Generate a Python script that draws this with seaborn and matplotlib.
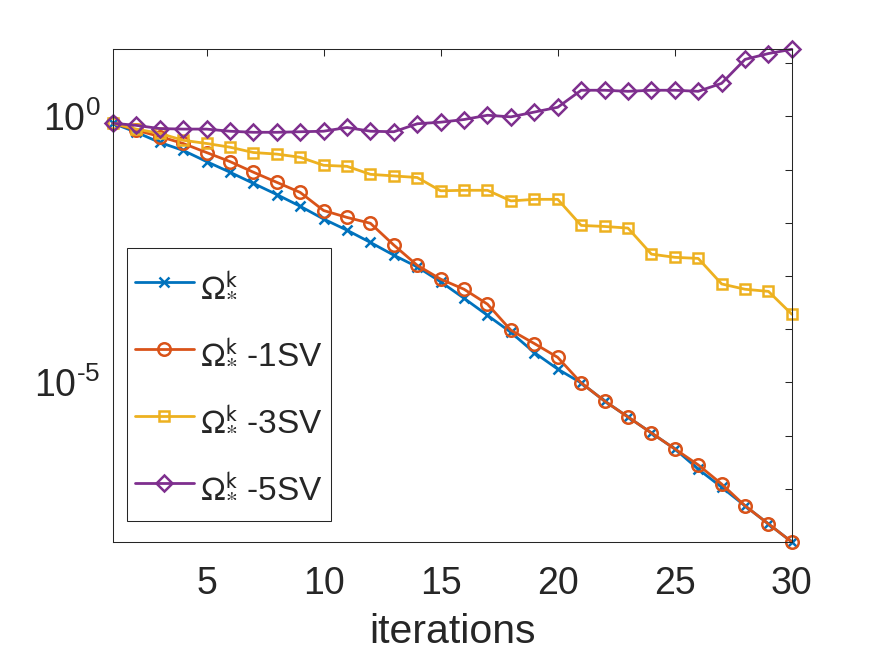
import numpy as np
import pandas as pd
import matplotlib
matplotlib.use('Agg')
import matplotlib.pyplot as plt
from matplotlib.ticker import NullLocator, FixedLocator
from matplotlib.font_manager import FontProperties
import seaborn as sns

# iteration index
iterations = list(range(1, 31))

# log10 of the residual for each variant
log_full = [-0.13, -0.30, -0.49, -0.64, -0.85, -1.05, -1.26, -1.47, -1.69, -1.93,
            -2.14, -2.37, -2.61, -2.83, -3.11, -3.42, -3.74, -4.06, -4.44, -4.75,
            -5.01, -5.35, -5.65, -5.95, -6.25, -6.63, -6.97, -7.32, -7.66, -8.00]
log_1sv = [-0.13, -0.26, -0.38, -0.51, -0.68, -0.85, -1.05, -1.24, -1.43, -1.77,
           -1.90, -2.01, -2.42, -2.80, -3.06, -3.25, -3.53, -4.02, -4.27, -4.53,
           -5.01, -5.35, -5.65, -5.95, -6.25, -6.55, -6.91, -7.32, -7.66, -8.00]
log_3sv = [-0.13, -0.24, -0.32, -0.45, -0.51, -0.58, -0.68, -0.71, -0.77, -0.92,
           -0.94, -1.09, -1.12, -1.15, -1.40, -1.39, -1.39, -1.59, -1.56, -1.56,
           -2.05, -2.07, -2.10, -2.59, -2.65, -2.67, -3.15, -3.25, -3.29, -3.72]
log_5sv = [-0.13, -0.17, -0.23, -0.24, -0.24, -0.28, -0.30, -0.30, -0.29, -0.28,
           -0.21, -0.28, -0.29, -0.14, -0.11, -0.06, 0.02, -0.01, 0.08, 0.17,
           0.49, 0.49, 0.47, 0.49, 0.49, 0.47, 0.62, 1.07, 1.18, 1.26]

labels = [r'$\Omega_{*}^{\mathrm{k}}$',
          r'$\Omega_{*}^{\mathrm{k}}$ -1SV',
          r'$\Omega_{*}^{\mathrm{k}}$ -3SV',
          r'$\Omega_{*}^{\mathrm{k}}$ -5SV']
colors = ['#0072BD', '#D95319', '#EDB120', '#7E2F8E']
markers = ['x', 'o', 's', 'D']
marker_sizes = [6.5, 9, 7.5, 8.5]

frames = []
for lab, vals in zip(labels, [log_full, log_1sv, log_3sv, log_5sv]):
    frames.append(pd.DataFrame({'iteration': iterations,
                                'residual': 10.0 ** np.array(vals),
                                'method': lab}))
df = pd.concat(frames, ignore_index=True)

sns.set_theme(style='white')
fam = ['Liberation Sans', 'DejaVu Sans']
plt.rcParams['font.family'] = fam
plt.rcParams['mathtext.fontset'] = 'custom'
plt.rcParams['mathtext.rm'] = 'Liberation Sans'
plt.rcParams['mathtext.it'] = 'Liberation Sans:italic'
plt.rcParams['mathtext.bf'] = 'Liberation Sans:bold'
text_col = '#262626'

fig = plt.figure(figsize=(8.75, 6.57), dpi=100)
ax = fig.add_axes([0.129, 0.175, 0.776, 0.750])

for lab, col, mk, ms in zip(labels, colors, markers, marker_sizes):
    sub = df[df['method'] == lab]
    sns.lineplot(data=sub, x='iteration', y='residual', ax=ax, color=col,
                 marker=mk, markersize=ms, markerfacecolor='none',
                 markeredgecolor=col, markeredgewidth=1.8, linewidth=2.0,
                 label=lab, estimator=None, clip_on=False)

ax.set_yscale('log')
ax.set_xlim(1, 30)
ax.set_ylim(1e-8, 10 ** 1.26)
ax.set_xticks([5, 10, 15, 20, 25, 30])
ax.yaxis.set_major_locator(FixedLocator([10.0 ** p for p in range(-8, 2)]))
ytl = []
for p in range(-8, 2):
    if p == 0:
        ytl.append(r'$10^{0}$')
    elif p == -5:
        ytl.append('$10^{\u20105}$')  # short hyphen like the original
    else:
        ytl.append('')
ax.set_yticklabels(ytl)
ax.yaxis.set_minor_locator(NullLocator())
ax.xaxis.set_minor_locator(NullLocator())

ax.set_xlabel('iterations', fontsize=29.5, color=text_col, labelpad=8)
ax.set_ylabel('')
ax.tick_params(axis='both', which='both', direction='in', top=True, right=True,
               length=5, width=0.75, colors=text_col, labelsize=27)
ax.tick_params(axis='x', pad=17)
ax.tick_params(axis='y', pad=9)
for sp in ax.spines.values():
    sp.set_visible(True)
    sp.set_color(text_col)
    sp.set_linewidth(0.75)

leg_font = FontProperties(family=fam, size=24, math_fontfamily='stixsans')
leg = ax.legend(loc='lower left', bbox_to_anchor=(0.0206, 0.0426), borderaxespad=0,
                frameon=True, fancybox=False, framealpha=1, edgecolor=text_col,
                prop=leg_font, handlelength=1.75, handletextpad=0.2,
                handleheight=2.18, labelspacing=0.35, borderpad=0.25)
leg.get_frame().set_linewidth(0.75)
for t in leg.get_texts():
    t.set_color(text_col)
# bring the legend samples down to the middle of the text
for ln in leg.get_lines():
    ln.set_ydata(np.asarray(ln.get_ydata()) - 5)

fig.savefig('out.png', dpi=100, facecolor='white')
